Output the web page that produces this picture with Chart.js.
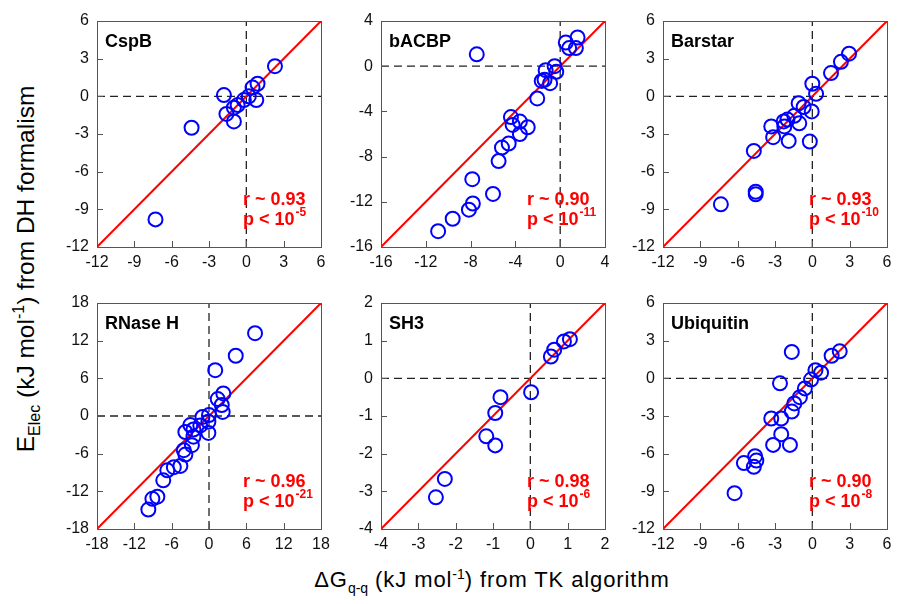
<!DOCTYPE html>
<html>
<head>
<meta charset="utf-8">
<script src="https://cdn.jsdelivr.net/npm/chart.js@4.4.1/dist/chart.umd.min.js"></script>
<style>
  body { margin: 0; background: #fff; overflow: hidden; font-family: "Liberation Sans", Arial, sans-serif; }
  #wrap { position: relative; width: 897px; height: 604px; }
  canvas { position: absolute; }
  .title { position: absolute; color: #000; white-space: nowrap; }
  #ytitle { font-size: 24.5px; left: 27px; top: 269px; transform: translate(-50%, -50%) rotate(-90deg); }
  #ytitle sub, #ytitle sup { font-size: 16px; }
  #xtitle { font-size: 22px; letter-spacing: 0.9px; left: 492px; top: 581px; transform: translate(-50%, -50%); }
  #xtitle sub, #xtitle sup { font-size: 14px; letter-spacing: 0; }
</style>
</head>
<body>
<div id="wrap">
  <div class="title" id="ytitle">E<sub>Elec</sub> (kJ mol<sup>-1</sup>) from DH formalism</div>
  <div class="title" id="xtitle">&Delta;G<sub>q-q</sub> (kJ mol<sup>-1</sup>) from TK algorithm</div>
</div>
<script>
// panel names, stats and axis ranges
const proteins = ["CspB", "bACBP", "Barstar", "RNase H", "SH3", "Ubiquitin"];
const rValues = ["0.93", "0.90", "0.93", "0.96", "0.98", "0.90"];
const pExponents = ["-5", "-11", "-10", "-21", "-6", "-8"];
const axisMin = [-12, -16, -12, -18, -4, -12];
const axisMax = [6, 4, 6, 18, 2, 6];
const tickStep = [3, 4, 3, 6, 1, 3];

// ΔG (x) and E_elec (y) per protein
const cspbX = [2.3, 0.9, 0.5, 0.8, 0.2, -1.8, -0.2, -0.7, -1.0, -1.6, -1.0, -4.4, -7.3];
const cspbY = [2.4, 1.0, 0.7, -0.3, 0.0, 0.1, -0.3, -0.7, -0.9, -1.4, -2.0, -2.5, -9.8];

const bacbpX = [1.55, 0.5, 0.8, 1.4, -7.45, -0.5, -0.35, -1.3, -1.65, -1.4, -0.9, -2.05, -4.4, -4.25, -3.6, -2.9, -3.6, -4.6, -5.2, -5.5, -7.85, -6.0, -7.8, -8.15, -9.6, -10.9];
const bacbpY = [2.55, 2.1, 1.6, 1.6, 1.05, 0.0, -0.5, -0.35, -1.3, -1.2, -1.5, -2.85, -4.5, -5.2, -4.9, -5.4, -6.0, -6.85, -7.2, -8.4, -10.0, -11.3, -12.15, -12.7, -13.5, -14.6];

const barstarX = [2.95, 2.3, 1.5, 0.0, 0.3, -1.1, -0.7, -0.05, -1.45, -1.05, -2.0, -2.3, -2.25, -3.3, -3.15, -1.9, -0.2, -4.7, -4.55, -4.55, -7.35];
const barstarY = [3.4, 2.75, 1.85, 1.0, 0.2, -0.55, -0.85, -1.2, -1.55, -2.15, -1.85, -2.0, -2.4, -2.4, -3.25, -3.55, -3.6, -4.35, -7.6, -7.8, -8.6];

const rnaseX = [7.4, 4.3, 1.0, 2.3, 1.4, 2.05, 2.2, 0.0, -1.05, -0.1, -0.1, -1.4, -2.5, -3.0, -3.8, -2.5, -2.75, -4.05, -3.8, -4.6, -5.65, -6.7, -7.35, -8.3, -9.1, -9.75];
const rnaseY = [13.2, 9.6, 7.3, 3.6, 2.7, 1.75, 0.65, 0.15, -0.15, -0.9, -2.7, -1.5, -2.15, -1.45, -2.55, -3.3, -4.65, -5.45, -6.15, -7.95, -8.15, -8.65, -10.25, -12.85, -13.2, -14.9];

const sh3X = [1.06, 0.9, 0.64, 0.55, 0.02, -0.8, -0.94, -1.18, -0.94, -2.29, -2.53];
const sh3Y = [1.04, 0.98, 0.76, 0.58, -0.37, -0.5, -0.92, -1.54, -1.78, -2.67, -3.16];

const ubqX = [2.2, 1.55, -1.65, 0.7, 0.25, -0.1, -2.6, -0.6, -1.0, -1.45, -1.65, -3.3, -2.5, -2.5, -3.15, -1.8, -4.6, -4.5, -4.7, -5.5, -6.25];
const ubqY = [2.15, 1.8, 2.1, 0.45, 0.65, -0.1, -0.4, -0.8, -1.5, -2.0, -2.65, -3.2, -3.2, -4.45, -5.3, -5.3, -6.2, -6.55, -7.05, -6.75, -9.15];

const seriesX = [cspbX, bacbpX, barstarX, rnaseX, sh3X, ubqX];
const seriesY = [cspbY, bacbpY, barstarY, rnaseY, sh3Y, ubqY];

const FONT = '"Liberation Sans", Arial, sans-serif';
const plotLefts = [97, 381, 663];
const plotTops = [21, 303];
const plotW = 225, plotH = 226;
const padL = 45, padT = 12, padR = 8, padB = 30;

// keep plot area exactly where it should be
function noPad(s) {
  s.paddingTop = 0; s.paddingBottom = 0; s.paddingLeft = 0; s.paddingRight = 0;
}

const panelText = {
  id: "panelText",
  afterDraw(chart, args, opts) {
    const { ctx, chartArea: a, scales } = chart;
    ctx.save();
    // frame + inward ticks (left and bottom)
    ctx.strokeStyle = "#555";
    ctx.lineWidth = 1;
    ctx.strokeRect(a.left + 0.5, a.top + 0.5, a.right - a.left, a.bottom - a.top);
    ctx.beginPath();
    scales.x.ticks.forEach(t => {
      const px = Math.round(scales.x.getPixelForValue(t.value)) + 0.5;
      ctx.moveTo(px, a.bottom);
      ctx.lineTo(px, a.bottom - 6);
    });
    scales.y.ticks.forEach(t => {
      const py = Math.round(scales.y.getPixelForValue(t.value)) + 0.5;
      ctx.moveTo(a.left, py);
      ctx.lineTo(a.left + 6, py);
    });
    ctx.stroke();

    ctx.fillStyle = "#000";
    ctx.font = "bold 18px " + FONT;
    ctx.textBaseline = "alphabetic";
    ctx.fillText(opts.name, a.left + 8, a.top + 26);

    ctx.fillStyle = "#ff0000";
    const tx = a.right - 78;
    ctx.fillText("r ~ " + opts.r, tx, a.bottom - 42);
    const base = "p < 10";
    ctx.fillText(base, tx, a.bottom - 22);
    const w = ctx.measureText(base).width;
    ctx.font = "bold 12px " + FONT;
    ctx.fillText(opts.p, tx + w + 1, a.bottom - 31);
    ctx.restore();
  }
};

const wrap = document.getElementById("wrap");

proteins.forEach((name, i) => {
  const lo = axisMin[i], hi = axisMax[i];
  const canvas = document.createElement("canvas");
  const w = plotW + padL + padR, h = plotH + padT + padB;
  canvas.width = w; canvas.height = h;
  canvas.style.width = w + "px"; canvas.style.height = h + "px";
  canvas.style.left = (plotLefts[i % 3] - padL) + "px";
  canvas.style.top = (plotTops[Math.floor(i / 3)] - padT) + "px";
  wrap.appendChild(canvas);

  const pts = seriesX[i].map((x, k) => ({ x: x, y: seriesY[i][k] }));

  new Chart(canvas, {
    type: "scatter",
    data: {
      datasets: [
        {
          data: pts,
          pointRadius: 7,
          pointBorderWidth: 2,
          pointBorderColor: "#0000ff",
          pointBackgroundColor: "rgba(0,0,0,0)",
          order: 0,
        },
        {
          data: [{ x: lo, y: lo }, { x: hi, y: hi }],
          showLine: true,
          borderColor: "#ff0000",
          borderWidth: 2,
          pointRadius: 0,
          order: 1,
        },
        {
          data: [{ x: 0, y: lo }, { x: 0, y: hi }],
          showLine: true,
          borderColor: "#222",
          borderWidth: 1.3,
          borderDash: [8, 5],
          pointRadius: 0,
          order: 2,
        },
        {
          data: [{ x: lo, y: 0 }, { x: hi, y: 0 }],
          showLine: true,
          borderColor: "#222",
          borderWidth: 1.3,
          borderDash: [8, 5],
          pointRadius: 0,
          order: 2,
        },
      ],
    },
    options: {
      responsive: false,
      animation: false,
      layout: { padding: { left: 0, top: padT, right: padR, bottom: 0 } },
      plugins: {
        legend: { display: false },
        tooltip: { enabled: false },
        panelText: { name: name, r: rValues[i], p: pExponents[i] },
      },
      scales: {
        x: {
          type: "linear",
          min: lo, max: hi,
          afterFit(s) { s.height = padB; noPad(s); },
          grid: { display: false, drawTicks: false },
          border: { display: false },
          ticks: { stepSize: tickStep[i], autoSkip: false, maxRotation: 0, padding: 6, color: "#111", font: { family: FONT, size: 16 } },
        },
        y: {
          type: "linear",
          min: lo, max: hi,
          afterFit(s) { s.width = padL; noPad(s); },
          grid: { display: false, drawTicks: false },
          border: { display: false },
          ticks: { stepSize: tickStep[i], autoSkip: false, padding: 8, color: "#111", font: { family: FONT, size: 16 } },
        },
      },
    },
    plugins: [panelText],
  });
});
</script>
</body>
</html>
